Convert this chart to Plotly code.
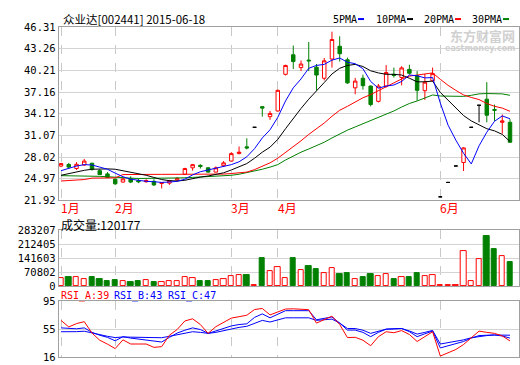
import plotly.graph_objects as go

# ---------------- data ----------------
idx = list(range(59))

open_ = [26.75, 26.97, 26.4, 26.9, 27.15, 26.1, 25.65, 24.9, 24.5, 24.95,
         24.7, 24.55, 24.6, 24.3, 24.35, 24.8, 25.6, 26.5, 26.85, 26.5,
         25.9, 26.8, 27.45, 28.5, 29.45, 32.2, 35.1, 33.7, 34.5, 39.65,
         42.4, 40.6, 41.65, 40.65, 39.1, 41.8, 43.6, 41.7, 37.75, 39.1,
         38.0, 35.85, 38.0, 39.65, 39.2, 40.35, 39.45, 37.35, 38.75, 22.42,
         24.45, 26.76, 27.25, 32.2, 35.3, 36.15, 34.7, 32.9, 32.9]
high = [27.2, 27.2, 27.3, 27.75, 27.2, 26.3, 25.9, 25.0, 25.05, 25.3,
        25.0, 24.9, 24.9, 24.45, 24.8, 25.2, 26.5, 27.05, 27.0, 26.6,
        26.7, 27.45, 28.7, 29.5, 30.65, 32.2, 35.2, 34.5, 37.5, 41.0,
        43.7, 41.6, 44.2, 41.1, 41.95, 45.65, 45.0, 42.0, 39.15, 39.6,
        38.1, 38.3, 40.95, 40.6, 40.8, 41.0, 40.1, 39.7, 40.6, 22.42,
        24.45, 26.76, 29.4, 32.2, 35.3, 38.55, 35.4, 34.0, 33.35]
low = [26.6, 26.4, 26.2, 26.8, 26.1, 25.5, 25.05, 24.1, 24.4, 24.35,
       24.35, 24.4, 23.95, 23.6, 24.1, 24.6, 25.5, 26.1, 26.4, 25.8,
       25.85, 26.7, 27.4, 28.4, 29.1, 32.2, 33.7, 33.25, 34.4, 39.5,
       40.4, 40.1, 40.1, 37.4, 38.8, 40.6, 41.45, 38.3, 36.85, 37.5,
       35.15, 35.7, 37.8, 39.2, 38.1, 39.6, 35.95, 36.05, 38.65, 22.42,
       24.45, 26.76, 26.05, 32.2, 32.9, 32.9, 33.1, 31.3, 30.0]
close = [27.1, 26.6, 27.0, 27.45, 26.3, 25.55, 25.15, 24.25, 24.95, 24.5,
         24.55, 24.7, 24.1, 24.4, 24.7, 25.0, 26.4, 26.95, 26.7, 25.9,
         26.5, 27.2, 28.5, 28.7, 29.3, 32.2, 34.9, 34.15, 37.4, 40.9,
         41.45, 41.1, 41.55, 39.55, 41.55, 44.55, 42.55, 38.45, 38.7, 38.05,
         35.4, 38.0, 39.9, 39.5, 40.55, 39.8, 37.4, 38.55, 39.75, 22.42,
         24.45, 26.76, 29.3, 32.2, 35.3, 33.9, 34.6, 33.1, 30.1]

ma5 = [26.1, 26.45, 26.75, 26.95, 26.9, 26.6, 26.3, 25.75, 25.25, 24.9,
       24.7, 24.6, 24.55, 24.45, 24.5, 24.6, 24.9, 25.5, 25.95, 26.2,
       26.5, 26.65, 26.95, 27.35, 28.05, 29.2, 30.7, 31.85, 33.6, 35.9,
       37.75, 39.0, 40.5, 40.9, 41.05, 41.65, 41.95, 41.35, 41.15, 40.45,
       38.65, 37.7, 38.0, 38.15, 38.65, 39.55, 39.45, 39.15, 39.2, 35.6,
       32.5, 30.4, 28.55, 27.05, 29.6, 31.5, 33.05, 33.8, 33.4]
ma10 = [25.45, 25.7, 25.95, 26.15, 26.3, 26.35, 26.35, 26.3, 26.1, 25.9,
        25.65, 25.45, 25.15, 24.85, 24.7, 24.65, 24.75, 25.0, 25.2, 25.35,
        25.55, 25.8, 26.2, 26.65, 27.1, 27.85, 28.7, 29.4, 30.5, 32.0,
        33.45, 34.85, 36.15, 37.25, 38.5, 39.7, 40.5, 40.9, 41.05, 40.75,
        40.15, 39.85, 39.65, 39.65, 39.55, 39.1, 38.6, 38.6, 38.7, 37.1,
        36.05, 34.9, 33.85, 33.1, 32.6, 32.0, 31.7, 31.2, 30.2]
ma20 = [24.65, 24.7, 24.8, 24.85, 25.05, 25.05, 25.08, 25.1, 25.55, 25.58,
        25.58, 25.58, 25.58, 25.58, 25.58, 25.58, 25.58, 25.58, 25.58, 25.6,
        25.6, 25.62, 25.7, 25.75, 25.9, 26.25, 26.7, 27.2, 27.85, 28.65,
        29.5, 30.3, 31.2, 31.95, 32.8, 33.75, 34.6, 35.15, 35.75, 36.35,
        36.8, 37.35, 37.9, 38.45, 39.0, 39.4, 39.55, 39.75, 39.85, 38.95,
        38.1, 37.4, 36.75, 36.4, 36.1, 35.55, 35.15, 34.9, 34.45]
ma30 = [25.4, 25.4, 25.4, 25.38, 25.35, 25.3, 25.25, 25.15, 25.1, 25.05,
        25.0, 25.0, 25.0, 25.0, 25.0, 25.05, 25.1, 25.15, 25.2, 25.25,
        25.3, 25.35, 25.45, 25.6, 25.8, 26.0, 26.3, 26.6, 26.95, 27.6,
        28.2, 28.7, 29.15, 29.6, 30.1, 30.7, 31.3, 31.8, 32.25, 32.7,
        33.05, 33.5, 34.0, 34.5, 35.05, 35.55, 35.9, 36.3, 36.75, 36.6,
        36.55, 36.55, 36.55, 36.7, 36.9, 36.95, 36.95, 36.9, 36.7]

volume = [41000, 42700, 46000, 36000, 46000, 36000, 25600, 30700, 25600, 20500,
          25600, 30700, 20500, 19000, 25600, 25600, 46000, 41000, 25600, 25600,
          30700, 36000, 48000, 54500, 56400, 2500, 143000, 77000, 97500, 41000,
          143000, 82000, 102600, 87000, 66700, 92300, 61500, 66700, 36000, 46000,
          61500, 51200, 61500, 36000, 46000, 46000, 66700, 51200, 56400, 3000,
          3000, 3000, 179000, 25600, 138000, 255000, 184500, 153800, 120177]

rsi_a = [67.8, 58.6, 63.3, 66.0, 50.0, 40.0, 34.5, 28.3, 40.5, 34.7,
         34.7, 34.7, 30.0, 31.0, 47.0, 55.0, 67.0, 70.0, 62.0, 49.6,
         59.0, 65.0, 71.0, 73.0, 75.0, 83.0, 84.5, 75.5, 80.0, 83.7,
         84.0, 83.5, 82.8, 64.0, 69.0, 73.7, 62.0, 43.7, 44.1, 40.0,
         32.3, 45.0, 51.9, 50.5, 53.5, 48.0, 38.2, 45.0, 51.9, 17.8,
         22.0, 27.0, 34.0, 44.0, 52.8, 51.0, 49.6, 46.0, 39.0]
rsi_b = [57.3, 56.5, 56.0, 57.3, 51.0, 47.0, 44.0, 39.2, 45.0, 43.0,
         41.5, 40.5, 39.0, 37.5, 44.0, 50.0, 54.0, 57.3, 55.0, 49.6,
         53.0, 56.4, 60.0, 62.0, 63.0, 72.0, 76.9, 71.4, 76.0, 81.4,
         81.4, 81.4, 81.4, 68.7, 70.5, 72.6, 64.0, 54.2, 54.2, 51.0,
         45.0, 51.0, 55.5, 55.8, 56.4, 52.0, 45.0, 49.0, 52.8, 29.2,
         32.0, 35.5, 38.2, 43.0, 46.5, 47.0, 47.4, 46.0, 43.0]
rsi_c = [51.9, 51.5, 52.0, 52.6, 50.0, 47.5, 45.5, 43.7, 44.6, 44.3,
         44.0, 44.0, 43.7, 43.5, 45.5, 47.3, 50.0, 51.9, 51.0, 49.6,
         51.0, 53.5, 56.4, 58.0, 59.5, 64.0, 67.8, 65.5, 69.0, 71.4,
         71.4, 71.4, 71.4, 67.8, 68.5, 69.6, 64.0, 56.4, 56.4, 54.0,
         49.6, 53.0, 55.5, 56.0, 56.4, 53.0, 48.6, 51.0, 53.7, 34.7,
         36.5, 38.5, 40.5, 43.5, 45.5, 46.5, 47.3, 47.5, 47.0]

month_pos = [0, 7, 22, 28, 49]
month_labels = ["1月", "2月", "3月", "4月", "6月"]
price_ticks = [21.92, 24.97, 28.02, 31.07, 34.12, 37.16, 40.21, 43.26, 46.31]
vol_ticks = [0, 70802, 141603, 212405, 283207]
rsi_ticks = [16, 55, 95]

title_text = "众业达[002441] 2015-06-18"
vol_title = "成交量:120177"
rsi_labels = ["RSI_A:39", "RSI_B:43", "RSI_C:47"]
ma_names = ["5PMA", "10PMA", "20PMA", "30PMA"]

# ---------------- styles ----------------
RED = "#ff0000"
GREEN = "#008000"
BLUE = "#0000ff"
BLACK = "#000000"
BORDER = "#a0a0a0"
GRID = "#d4d4d4"
VGRID = "#c8c8c8"
WATER = "#d0d0d0"
FONT = "Noto Sans CJK SC"
NUMFONT = "DejaVu Sans Mono"

W, H = 520, 365
XL, XR = 58.7, 519.3
XR0, XR1 = -0.3, 59.2


def ydom(top_px, bot_px):
    return [(H - bot_px) / H, (H - top_px) / H]


def sub(vals, sel):
    return [vals[i] for i in sel]


up = [i for i in idx if close[i] > open_[i]]
down = [i for i in idx if close[i] < open_[i]]
flat = [i for i in idx if close[i] == open_[i]]

fig = go.Figure()

# candles
fig.add_trace(go.Candlestick(
    x=up, open=sub(open_, up), high=sub(high, up), low=sub(low, up), close=sub(close, up),
    increasing=dict(line=dict(color=RED, width=1), fillcolor="white"),
    decreasing=dict(line=dict(color=RED, width=1), fillcolor="white"),
    xaxis="x", yaxis="y", showlegend=False, hoverinfo="skip"))
fig.add_trace(go.Candlestick(
    x=down, open=sub(open_, down), high=sub(high, down), low=sub(low, down), close=sub(close, down),
    increasing=dict(line=dict(color=GREEN, width=1), fillcolor=GREEN),
    decreasing=dict(line=dict(color=GREEN, width=1), fillcolor=GREEN),
    xaxis="x", yaxis="y", showlegend=False, hoverinfo="skip"))
fig.add_trace(go.Candlestick(
    x=flat, open=sub(open_, flat), high=sub(high, flat), low=sub(low, flat), close=sub(close, flat),
    increasing=dict(line=dict(color=BLACK, width=1), fillcolor=BLACK),
    decreasing=dict(line=dict(color=BLACK, width=1), fillcolor=BLACK),
    xaxis="x", yaxis="y", showlegend=False, hoverinfo="skip"))

# moving averages
for vals, col in [(ma30, GREEN), (ma20, RED), (ma10, BLACK), (ma5, BLUE)]:
    fig.add_trace(go.Scatter(x=idx, y=vals, mode="lines", line=dict(color=col, width=1),
                             xaxis="x", yaxis="y", showlegend=False, hoverinfo="skip"))

# volume
vcol_fill = ["white" if close[i] >= open_[i] else GREEN for i in idx]
vcol_line = [RED if close[i] >= open_[i] else GREEN for i in idx]
fig.add_trace(go.Bar(x=idx, y=volume, width=0.68,
                     marker=dict(color=vcol_fill, line=dict(color=vcol_line, width=1)),
                     xaxis="x2", yaxis="y2", showlegend=False, hoverinfo="skip"))

# RSI
for vals, col in [(rsi_c, BLUE), (rsi_b, BLUE), (rsi_a, RED)]:
    fig.add_trace(go.Scatter(x=idx, y=vals, mode="lines", line=dict(color=col, width=1),
                             xaxis="x3", yaxis="y3", showlegend=False, hoverinfo="skip"))

xcommon = dict(range=[XR0, XR1], tickvals=month_pos, showticklabels=False,
               showgrid=True, gridcolor=VGRID, griddash="dash", gridwidth=1,
               showline=True, linecolor=BORDER, linewidth=1, mirror=True,
               zeroline=False, ticks="", fixedrange=True)
ycommon = dict(showline=True, linecolor=BORDER, linewidth=1, mirror=True,
               showgrid=True, gridcolor=GRID, gridwidth=1, zeroline=False,
               ticks="", tickfont=dict(family=NUMFONT, size=10.5, color=BLACK))

xdom = [XL / W, XR / W]

fig.update_layout(
    width=W, height=H,
    margin=dict(l=0, r=0, t=0, b=0),
    paper_bgcolor="white", plot_bgcolor="white",
    boxgap=0.36,
    bargap=0,
    xaxis=dict(domain=xdom, anchor="y", rangeslider=dict(visible=False), **xcommon),
    xaxis2=dict(domain=xdom, anchor="y2", **xcommon),
    xaxis3=dict(domain=xdom, anchor="y3", **xcommon),
    yaxis=dict(domain=ydom(21.7, 201.0), range=[price_ticks[0], price_ticks[-1]],
               tickvals=price_ticks, ticktext=[f"{v:.2f}" for v in price_ticks], **ycommon),
    yaxis2=dict(domain=ydom(231.7, 289.5), range=[vol_ticks[0], vol_ticks[-1]],
                tickvals=vol_ticks, ticktext=[str(v) for v in vol_ticks], **ycommon),
    yaxis3=dict(domain=ydom(305.0, 363.3), range=[rsi_ticks[0], rsi_ticks[-1]],
                tickvals=rsi_ticks, ticktext=[str(v) for v in rsi_ticks], **ycommon),
    showlegend=False,
)

ann = []
# title
ann.append(dict(text=title_text, xref="paper", yref="paper", x=61 / W, y=(H - 13) / H,
                xanchor="left", yanchor="middle", showarrow=False,
                font=dict(family=FONT, size=11.5, color=BLACK)))
# legend texts + colour dashes
leg_x = [331, 374, 422, 470]
dash_x = [358, 407, 455, 503]
leg_cols = [BLUE, BLACK, RED, GREEN]
shapes = []
for name, lx, dx, col in zip(ma_names, leg_x, dash_x, leg_cols):
    ann.append(dict(text=name, xref="paper", yref="paper", x=lx / W, y=(H - 14) / H,
                    xanchor="left", yanchor="middle", showarrow=False,
                    font=dict(family=NUMFONT, size=10, color=BLACK)))
    shapes.append(dict(type="line", xref="paper", yref="paper",
                       x0=dx / W, x1=(dx + 6) / W, y0=(H - 13.5) / H, y1=(H - 13.5) / H,
                       line=dict(color=col, width=2)))
# watermark
ann.append(dict(text="<b>东方财富网</b>", xref="paper", yref="paper", x=517 / W, y=(H - 30) / H,
                xanchor="right", yanchor="middle", showarrow=False,
                font=dict(family=FONT, size=13, color=WATER)))
ann.append(dict(text="<b>eastmoney.com</b>", xref="paper", yref="paper", x=517 / W, y=(H - 44) / H,
                xanchor="right", yanchor="middle", showarrow=False,
                font=dict(family="DejaVu Sans", size=8, color=WATER)))
# month labels
for p, lab in zip(month_pos, month_labels):
    ann.append(dict(text=lab, xref="x", yref="paper", x=p - 0.28, y=(H - 208) / H,
                    xanchor="left", yanchor="middle", showarrow=False,
                    font=dict(family=FONT, size=12, color=RED)))
# volume title
ann.append(dict(text=vol_title, xref="paper", yref="paper", x=59 / W, y=(H - 226) / H,
                xanchor="left", yanchor="middle", showarrow=False,
                font=dict(family=FONT, size=12, color=BLACK)))
# RSI labels
for lab, lx, col in zip(rsi_labels, [59, 112, 166], [RED, BLUE, BLUE]):
    ann.append(dict(text=lab, xref="paper", yref="paper", x=lx / W, y=(H - 299.5) / H,
                    xanchor="left", yanchor="middle", showarrow=False,
                    font=dict(family=NUMFONT, size=10, color=col)))

fig.update_layout(annotations=ann, shapes=shapes)

fig.write_html("out.html", config={"displayModeBar": False},
               post_script="document.body.style.margin='0';document.body.style.overflow='hidden';")
